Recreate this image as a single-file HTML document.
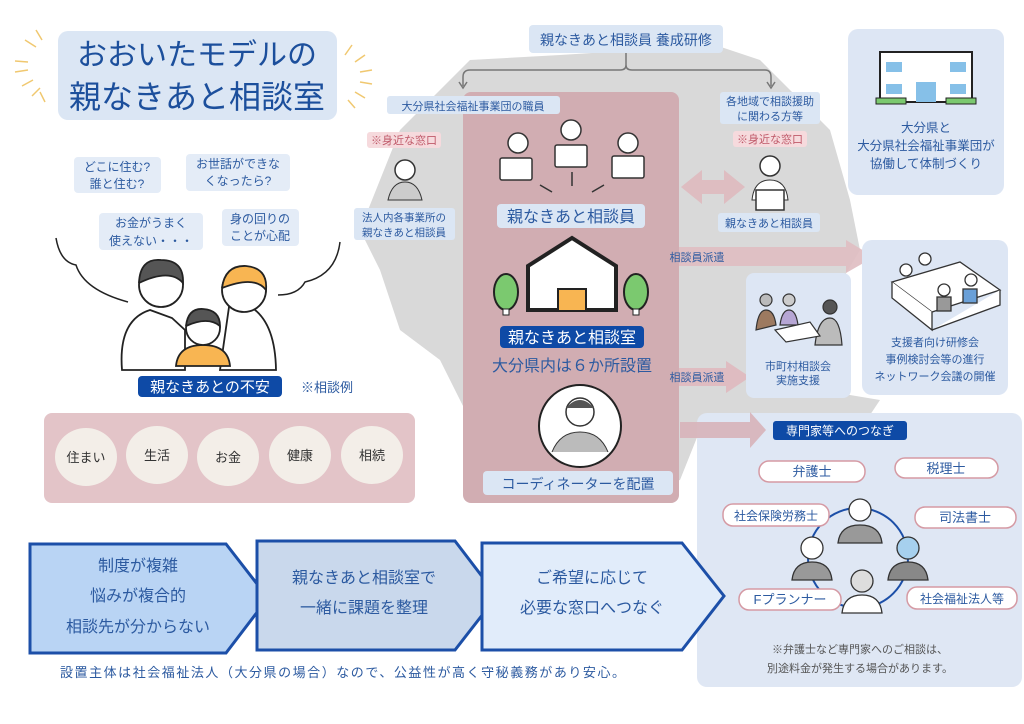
<!DOCTYPE html>
<html><head><meta charset="utf-8"><style>
html,body{margin:0;padding:0;background:#fff}
svg{display:block}
text{font-family:"Liberation Sans","Noto Sans CJK JP",sans-serif;fill:#2c5aa0}
</style></head><body>
<svg width="1024" height="724" viewBox="0 0 1024 724" xmlns="http://www.w3.org/2000/svg">
<path d="M400 130 L470 60 L560 55 L640 50 L700 40 L760 60 L800 100 L830 130 L850 200 L860 250 L830 300 L800 330 L790 360 L820 390 L880 400 L860 430 L800 470 L760 470 L700 430 L680 480 L600 500 L530 490 L470 420 L440 360 L400 330 L380 270 L360 230 L380 180 Z" fill="#d9d9d9"/>
<rect x="58" y="31" width="279" height="89" rx="10" fill="#dbe6f4"/>
<text x="197" y="65" font-size="30" text-anchor="middle" style="fill:#1c4f9c">おおいたモデルの</text>
<text x="197" y="108" font-size="32" text-anchor="middle" style="fill:#1c4f9c">親なきあと相談室</text>
<g stroke="#f0c870" stroke-width="1.5">
<line x1="36" y1="30" x2="42" y2="40"/><line x1="25" y1="40" x2="36" y2="47"/><line x1="15" y1="61" x2="28" y2="62"/><line x1="15" y1="72" x2="28" y2="70"/><line x1="22" y1="86" x2="33" y2="80"/><line x1="32" y1="96" x2="40" y2="88"/><line x1="45" y1="102" x2="40" y2="92"/>
<line x1="345" y1="55" x2="352" y2="45"/><line x1="355" y1="62" x2="365" y2="55"/><line x1="360" y1="72" x2="372" y2="70"/><line x1="360" y1="82" x2="372" y2="84"/><line x1="355" y1="92" x2="365" y2="98"/><line x1="348" y1="100" x2="355" y2="108"/>
</g>
<rect x="529" y="25" width="194" height="28" rx="4" fill="#dbe6f4"/>
<text x="626" y="45" font-size="14" text-anchor="middle">親なきあと相談員 養成研修</text>
<path d="M626 53 V65 Q626 70 620 70 H470 Q463 70 463 77 V86 M626 65 Q626 70 632 70 H765 Q771 70 771 77 V86" fill="none" stroke="#777" stroke-width="1.5"/>
<path d="M459 82 L463 88 L467 82 M767 82 L771 88 L775 82" fill="none" stroke="#777" stroke-width="1.5"/>
<rect x="463" y="92" width="216" height="411" rx="8" fill="#d1adb2"/>
<rect x="387" y="96" width="173" height="18" rx="3" fill="#dbe6f4"/>
<text x="473" y="110" font-size="11" text-anchor="middle">大分県社会福祉事業団の職員</text>
<g fill="#fff" stroke="#333" stroke-width="1.5">
<circle cx="518" cy="143" r="10"/><rect x="500" y="158" width="32" height="22" rx="2"/>
<circle cx="571" cy="130" r="10"/><rect x="555" y="145" width="32" height="22" rx="2"/>
<circle cx="628" cy="143" r="10"/><rect x="612" y="156" width="32" height="22" rx="2"/>
</g>
<path d="M540 185 L552 192 M572 172 V186 M592 192 L604 185" stroke="#333" stroke-width="1.5"/>
<rect x="497" y="204" width="148" height="24" rx="4" fill="#dbe6f4"/>
<text x="571" y="222" font-size="16" text-anchor="middle">親なきあと相談員</text>
<path d="M528 310 V266 L572 238 L616 266 V310 Z" fill="#fff" stroke="#222" stroke-width="4"/>
<rect x="558" y="289" width="28" height="22" fill="#f8b552" stroke="#222" stroke-width="2"/>
<ellipse cx="506" cy="292" rx="12" ry="18" fill="#7bc96f" stroke="#222" stroke-width="2"/><rect x="503" y="309" width="6" height="6" fill="#fff" stroke="#222"/>
<ellipse cx="636" cy="292" rx="12" ry="18" fill="#7bc96f" stroke="#222" stroke-width="2"/><rect x="633" y="309" width="6" height="6" fill="#fff" stroke="#222"/>
<rect x="500" y="326" width="144" height="22" rx="4" fill="#0e4aa6"/>
<text x="572" y="343" font-size="16" text-anchor="middle" style="fill:#fff">親なきあと相談室</text>
<text x="572" y="371" font-size="16" text-anchor="middle">大分県内は６か所設置</text>
<circle cx="580" cy="426" r="41" fill="#fff" stroke="#222" stroke-width="2"/>
<circle cx="580" cy="412" r="14" fill="#fff" stroke="#333" stroke-width="1.5"/>
<path d="M566 408 Q580 392 594 408" fill="#555"/>
<path d="M552 452 Q560 432 580 432 Q600 432 608 452" fill="#bbb" stroke="#333"/>
<rect x="483" y="471" width="190" height="24" rx="4" fill="#dbe6f4"/>
<text x="578" y="489" font-size="14" text-anchor="middle">コーディネーターを配置</text>
<rect x="367" y="132" width="74" height="16" rx="3" fill="#f6dadd"/>
<text x="404" y="144" font-size="11" text-anchor="middle" style="fill:#c05a6a">※身近な窓口</text>
<circle cx="405" cy="170" r="10" fill="#fff" stroke="#333" stroke-width="1.5"/>
<path d="M388 200 Q392 182 405 182 Q418 182 422 200 Z" fill="#ccc" stroke="#333"/>
<rect x="354" y="208" width="101" height="32" rx="3" fill="#dbe6f4"/>
<text x="404" y="221" font-size="10.5" text-anchor="middle">法人内各事業所の</text>
<text x="404" y="236" font-size="10.5" text-anchor="middle">親なきあと相談員</text>
<rect x="74" y="157" width="87" height="36" rx="4" fill="#e4ecf7"/><text x="117" y="171" text-anchor="middle" font-size="12">どこに住む?</text><text x="117" y="188" text-anchor="middle" font-size="12">誰と住む?</text>
<rect x="186" y="154" width="104" height="37" rx="4" fill="#e4ecf7"/><text x="238" y="168" text-anchor="middle" font-size="12">お世話ができな</text><text x="238" y="185" text-anchor="middle" font-size="12">くなったら?</text>
<rect x="99" y="213" width="104" height="37" rx="4" fill="#e4ecf7"/><text x="151" y="227" text-anchor="middle" font-size="12">お金がうまく</text><text x="151" y="245" text-anchor="middle" font-size="12">使えない・・・</text>
<rect x="222" y="209" width="77" height="37" rx="4" fill="#e4ecf7"/><text x="260" y="223" text-anchor="middle" font-size="12">身の回りの</text><text x="260" y="240" text-anchor="middle" font-size="12">ことが心配</text>
<path d="M56 238 Q60 262 76 265 Q84 290 128 302" fill="none" stroke="#222" stroke-width="1.5"/>
<path d="M340 242 Q336 275 305 282 Q298 295 278 295" fill="none" stroke="#222" stroke-width="1.5"/>
<g stroke="#222" stroke-width="1.8">
<path d="M122 370 Q118 320 150 310 L172 318 L185 330 V370 Z" fill="#fff"/>
<circle cx="161" cy="285" r="22" fill="#fff"/><path d="M139 283 Q140 258 161 260 Q184 260 183 283 Q170 268 139 283" fill="#555"/>
<path d="M230 300 Q275 305 276 370 H220 Z" fill="#fff"/>
<circle cx="244" cy="290" r="22" fill="#fff"/><path d="M222 288 Q225 265 246 266 Q268 268 266 290 Q255 275 222 288" fill="#f8b552"/>
<path d="M176 366 Q178 345 203 345 Q228 345 230 366 Z" fill="#f8b552"/>
<circle cx="203" cy="328" r="17" fill="#fff"/><path d="M186 326 Q188 308 203 309 Q220 310 220 326 Q208 316 186 326" fill="#555"/>
</g>
<rect x="138" y="376" width="144" height="21" rx="4" fill="#0e4aa6"/>
<text x="210" y="392" font-size="15" text-anchor="middle" style="fill:#fff">親なきあとの不安</text>
<text x="327" y="392" font-size="13" text-anchor="middle">※相談例</text>
<rect x="44" y="413" width="371" height="90" rx="8" fill="#e3c4c8"/>
<ellipse cx="86" cy="457" rx="31" ry="29" fill="#f3eee8"/><text x="86" y="462" font-size="13" text-anchor="middle" style="fill:#333">住まい</text>
<ellipse cx="157" cy="455" rx="31" ry="29" fill="#f3eee8"/><text x="157" y="460" font-size="13" text-anchor="middle" style="fill:#333">生活</text>
<ellipse cx="228" cy="457" rx="31" ry="29" fill="#f3eee8"/><text x="228" y="462" font-size="13" text-anchor="middle" style="fill:#333">お金</text>
<ellipse cx="300" cy="455" rx="31" ry="29" fill="#f3eee8"/><text x="300" y="460" font-size="13" text-anchor="middle" style="fill:#333">健康</text>
<ellipse cx="372" cy="455" rx="31" ry="29" fill="#f3eee8"/><text x="372" y="460" font-size="13" text-anchor="middle" style="fill:#333">相続</text>
<rect x="848" y="29" width="156" height="166" rx="10" fill="#dde6f4"/>
<rect x="880" y="52" width="92" height="50" fill="#fff" stroke="#222" stroke-width="2"/>
<g fill="#86c0e8"><rect x="886" y="62" width="16" height="10"/><rect x="950" y="62" width="16" height="10"/><rect x="886" y="84" width="16" height="10"/><rect x="950" y="84" width="16" height="10"/><rect x="916" y="82" width="20" height="20"/></g>
<rect x="876" y="98" width="30" height="6" fill="#7bc96f" stroke="#222"/><rect x="946" y="98" width="30" height="6" fill="#7bc96f" stroke="#222"/>
<text x="926" y="132" font-size="12.5" text-anchor="middle">大分県と</text>
<text x="926" y="150" font-size="12.5" text-anchor="middle">大分県社会福祉事業団が</text>
<text x="926" y="168" font-size="12.5" text-anchor="middle">協働して体制づくり</text>
<rect x="720" y="92" width="100" height="32" rx="3" fill="#dbe6f4"/>
<text x="770" y="105" font-size="11" text-anchor="middle">各地域で相談援助</text>
<text x="770" y="120" font-size="11" text-anchor="middle">に関わる方等</text>
<rect x="733" y="131" width="74" height="16" rx="3" fill="#f6dadd"/>
<text x="770" y="143" font-size="11" text-anchor="middle" style="fill:#c05a6a">※身近な窓口</text>
<circle cx="770" cy="166" r="10" fill="#fff" stroke="#333" stroke-width="1.5"/>
<path d="M752 200 Q754 180 770 180 Q786 180 788 200 Z" fill="#fff" stroke="#333"/>
<rect x="756" y="190" width="28" height="20" fill="#fff" stroke="#333" stroke-width="1.5"/>
<rect x="718" y="213" width="102" height="19" rx="3" fill="#dbe6f4"/>
<text x="769" y="227" font-size="11" text-anchor="middle">親なきあと相談員</text>
<path d="M681 187 L702 170 V180 H724 V170 L745 187 L724 204 V194 H702 V204 Z" fill="#deb9be" opacity="0.9"/>
<path d="M679 247 H846 V240 L874 257 L846 273 V266 H679 Z" fill="#dfbcc1" opacity="0.9"/>
<text x="697" y="261" font-size="11" text-anchor="middle">相談員派遣</text>
<path d="M679 368 H726 V361 L750 377 L726 393 V386 H679 Z" fill="#dfbcc1"/>
<text x="697" y="381" font-size="11" text-anchor="middle">相談員派遣</text>
<rect x="862" y="240" width="146" height="155" rx="10" fill="#dde6f4"/>
<g stroke="#333" stroke-width="1.3">
<path d="M892 282 L960 262 L1000 290 L932 312 Z" fill="#fff"/><path d="M892 282 V298 L932 330 V312 M932 330 L1000 305 V290" fill="#fff"/>
<circle cx="906" cy="270" r="6" fill="#fff"/><circle cx="925" cy="259" r="6" fill="#fff"/><circle cx="971" cy="280" r="6" fill="#fff"/><circle cx="944" cy="290" r="6" fill="#fff"/>
<rect x="937" y="297" width="14" height="14" fill="#999"/><rect x="963" y="289" width="14" height="14" fill="#6aa0d8"/>
</g>
<text x="935" y="346" font-size="11" text-anchor="middle">支援者向け研修会</text>
<text x="935" y="363" font-size="11" text-anchor="middle">事例検討会等の進行</text>
<text x="935" y="380" font-size="11" text-anchor="middle">ネットワーク会議の開催</text>
<rect x="746" y="273" width="105" height="125" rx="8" fill="#dde6f4"/>
<g stroke="#333" stroke-width="1.2">
<circle cx="766" cy="300" r="6" fill="#bbb"/><circle cx="789" cy="300" r="6" fill="#ccc"/><circle cx="830" cy="307" r="7" fill="#555"/>
<path d="M756 330 Q758 310 766 310 Q774 310 776 325 Z" fill="#9d7a60"/><path d="M780 325 Q782 310 789 310 Q796 310 798 325 Z" fill="#b6a6d4"/>
<path d="M815 345 Q818 318 830 318 Q840 318 842 345 Z" fill="#bbb"/>
<path d="M775 330 L810 322 L820 336 L786 342 Z" fill="#fff"/>
</g>
<text x="798" y="370" font-size="11" text-anchor="middle">市町村相談会</text>
<text x="798" y="384" font-size="11" text-anchor="middle">実施支援</text>
<rect x="697" y="413" width="325" height="274" rx="10" fill="#dfe7f4"/>
<path d="M680 422 H750 V412 L766 430 L750 448 V438 H680 Z" fill="#d7b3b9" opacity="0.9"/>
<rect x="773" y="421" width="134" height="19" rx="3" fill="#0e4aa6"/>
<text x="840" y="435" font-size="12" text-anchor="middle" style="fill:#fff">専門家等へのつなぎ</text>
<circle cx="858" cy="558" r="50" fill="none" stroke="#1c4fa8" stroke-width="2"/>
<g stroke="#333" stroke-width="1.3">
<circle cx="860" cy="510" r="11" fill="#fff"/><path d="M838 543 Q840 525 860 525 Q880 525 882 543 Z" fill="#999"/>
<circle cx="812" cy="548" r="11" fill="#fff"/><path d="M792 580 Q794 562 812 562 Q830 562 832 580 Z" fill="#999"/>
<circle cx="908" cy="548" r="11" fill="#a6d0ee"/><path d="M888 580 Q890 562 908 562 Q926 562 928 580 Z" fill="#888"/>
<circle cx="862" cy="581" r="11" fill="#ddd"/><path d="M842 613 Q844 595 862 595 Q880 595 882 613 Z" fill="#fff"/>
</g>
<g fill="#fff" stroke="#d59aa4" stroke-width="1.5">
<rect x="759" y="461" width="106" height="21" rx="10"/><rect x="895" y="458" width="103" height="20" rx="10"/>
<rect x="723" y="504" width="106" height="22" rx="10"/><rect x="915" y="507" width="101" height="21" rx="10"/>
<rect x="739" y="589" width="102" height="21" rx="10"/><rect x="907" y="587" width="110" height="22" rx="10"/>
</g>
<text x="812" y="476" font-size="13" text-anchor="middle">弁護士</text><text x="946" y="473" font-size="13" text-anchor="middle">税理士</text>
<text x="776" y="520" text-anchor="middle" font-size="12">社会保険労務士</text><text x="965" y="522" font-size="13" text-anchor="middle">司法書士</text>
<text x="790" y="604" font-size="13" text-anchor="middle">Fプランナー</text><text x="962" y="603" text-anchor="middle" font-size="12">社会福祉法人等</text>
<text x="860" y="653" font-size="11" text-anchor="middle" style="fill:#555">※弁護士など専門家へのご相談は、</text>
<text x="860" y="672" font-size="11" text-anchor="middle" style="fill:#555">別途料金が発生する場合があります。</text>
<path d="M30 544 H226 L268 598 L226 653 H30 Z" fill="#b9d4f4" stroke="#1c4fa8" stroke-width="3"/>
<path d="M257 541 H455 L497 596 L455 650 H257 Z" fill="#c9d8ec" stroke="#1c4fa8" stroke-width="3"/>
<path d="M482 543 H682 L724 596 L682 650 H482 Z" fill="#e1ecfa" stroke="#1c4fa8" stroke-width="3"/>
<text x="138" y="571" font-size="16" text-anchor="middle">制度が複雑</text><text x="138" y="601" font-size="16" text-anchor="middle">悩みが複合的</text><text x="138" y="632" font-size="16" text-anchor="middle">相談先が分からない</text>
<text x="364" y="583" font-size="16" text-anchor="middle">親なきあと相談室で</text><text x="364" y="613" font-size="16" text-anchor="middle">一緒に課題を整理</text>
<text x="592" y="583" font-size="16" text-anchor="middle">ご希望に応じて</text><text x="592" y="613" font-size="16" text-anchor="middle">必要な窓口へつなぐ</text>
<text x="60" y="677" font-size="13" textLength="565">設置主体は社会福祉法人（大分県の場合）なので、公益性が高く守秘義務があり安心。</text>
</svg>
</body></html>
